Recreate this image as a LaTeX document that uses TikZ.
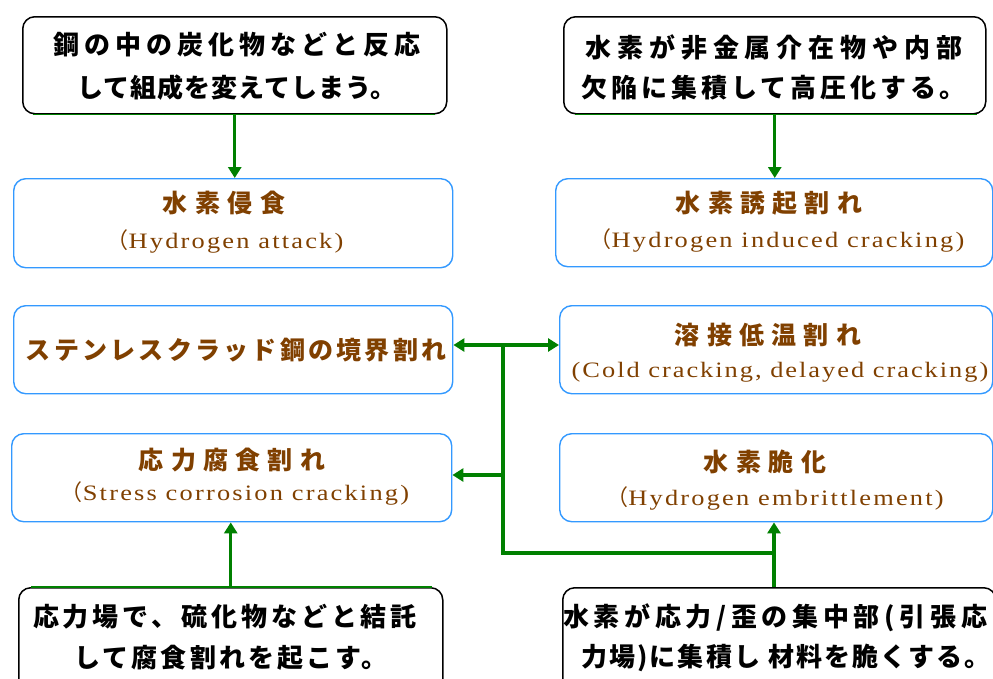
\documentclass[tikz,border=0pt]{standalone}
\usepackage{fontspec}
\usetikzlibrary{arrows.meta}
\newfontfamily\jp{Noto Sans CJK JP}
\newfontfamily\en[FakeStretch=1.2]{Liberation Serif}
\definecolor{brn}{HTML}{804000}
\definecolor{boxblue}{HTML}{3399FF}
\definecolor{conngreen}{HTML}{008000}
\newcommand{\ls}[1]{\addfontfeature{LetterSpace=#1}}
\begin{document}
\begin{tikzpicture}[x=1pt,y=-1pt,
 blackbox/.style={draw=black, line width=1.5pt, rounded corners=12pt, inner sep=0pt, anchor=north west},
 bluebox/.style={draw=boxblue, line width=1.4pt, rounded corners=12pt, inner sep=0pt, anchor=north west},
 bodytxt/.style={inner sep=0pt, text=black, font=\jp\bfseries\fontsize{26}{26}\selectfont},
 titletxt/.style={inner sep=0pt, text=brn, font=\jp\bfseries\fontsize{25}{25}\selectfont},
 entxt/.style={inner sep=0pt, text=brn, font=\en\fontsize{22}{22}\selectfont},
 conn/.style={draw=conngreen, line width=3.4pt},
 edge/.style={draw=conngreen, line width=1.5pt},
 arr/.style={-{Triangle[length=11pt,width=13pt]}}]
\useasboundingbox (0,0) rectangle (993,678);
\fill[white] (0,0) rectangle (993,678);
\clip (0,0) rectangle (993,678);

% boxes
\node[blackbox, minimum width=424pt, minimum height=97pt] (b1) at (22,16) {};
\node[bluebox, minimum width=439pt, minimum height=89pt] (b2) at (13,178) {};
\node[blackbox, minimum width=422pt, minimum height=97pt] (b3) at (563,16) {};
\node[bluebox, minimum width=437pt, minimum height=88pt] (b4) at (555,178) {};
\node[bluebox, minimum width=439pt, minimum height=88pt] (b5) at (13,305) {};
\node[bluebox, minimum width=433pt, minimum height=88pt] (b6) at (559,305) {};
\node[bluebox, minimum width=440pt, minimum height=88pt] (b7) at (11,433) {};
\node[bluebox, minimum width=433pt, minimum height=88pt] (b8) at (559,433) {};
\node[blackbox, minimum width=424pt, minimum height=113pt] (b9) at (18,587) {};
\node[blackbox, minimum width=433pt, minimum height=113pt] (b10) at (562,587) {};

% green edges
\draw[edge] ([xshift=11pt]b1.south west) -- ([xshift=-13pt]b1.south east);
\draw[edge] ([xshift=12pt]b3.south west) -- ([xshift=-10pt]b3.south east);
\draw[edge] ([xshift=13pt]b9.north west) -- ([xshift=-12pt]b9.north east);

% texts
\node[bodytxt] (t1a) at (237,45) {\ls{19}鋼の中の炭化物などと反応};
\node[bodytxt] (t1b) at (237,88) {\ls{4}して組成を変えてしまう。};
\node[titletxt] (t2a) at (224,203) {\ls{31}水素侵食};
\node[entxt] (t2b) at (225,241) {\ls{10}{\jp （}Hydrogen attack)};
\node[bodytxt] (t3a) at (774,47) {\ls{23}水素が非金属介在物や内部};
\node[bodytxt] (t3b) at (774,88) {\ls{15}欠陥に集積して高圧化する。};
\node[titletxt] (t4a) at (769,203) {\ls{29}水素誘起割れ};
\node[entxt] (t4b) at (777,240) {\ls{10}{\jp （}Hydrogen induced cracking)};
\node[titletxt] (t5) at (236,350) {\ls{13}ステンレスクラッド鋼の境界割れ};
\node[titletxt] (t6a) at (768,335) {\ls{29}溶接低温割れ};
\node[entxt] (t6b) at (780,372) {\ls{9}(Cold cracking, delayed cracking)};
\node[titletxt] (t7a) at (232,460) {\ls{29}応力腐食割れ};
\node[entxt] (t7b) at (235,493) {\ls{10}{\jp （}Stress corrosion cracking)};
\node[titletxt] (t8a) at (765,462) {\ls{31}水素脆化};
\node[entxt] (t8b) at (775,498) {\ls{10}{\jp （}Hydrogen embrittlement)};
\node[bodytxt] (t9a) at (225,617) {\ls{15}応力場で、硫化物などと結託};
\node[bodytxt] (t9b) at (231,658) {\ls{12}して腐食割れを起こす。};
\node[bodytxt, anchor=west] (t10a) at (563,618) {\ls{18}水素が応力/歪の集中部(引張応};
\node[bodytxt, anchor=west] (t10b) at (581,658) {\ls{8}力場)に集積し 材料を脆くする。};

% connectors
\coordinate (tt) at (503,345);
\coordinate (tm) at (503,475);
\coordinate (tb) at (503,553);
\coordinate (tj) at (774,553);
\draw[conn, arr] (b1.south) -- (b1.south |- b2.north);
\draw[conn, arr] (b3.south) -- (b3.south |- b4.north);
\draw[conn, arr] (b9.north) -- (b9.north |- b7.south);
\draw[conn] (tt) -- (tb) -- (tj);
\draw[conn, arr] (tt) -- (tt -| b5.east);
\draw[conn, arr] (tt) -- (tt -| b6.west);
\draw[conn, arr] (tm) -- (tm -| b7.east);
\draw[conn, arr] (tj |- b10.north) -- (tj |- b8.south);
\end{tikzpicture}
\end{document}
